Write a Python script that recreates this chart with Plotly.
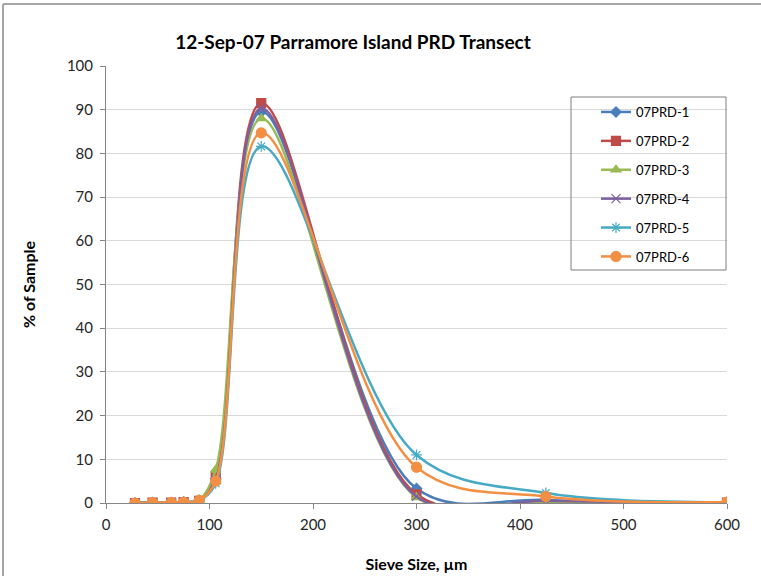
import plotly.graph_objects as go

# sieve openings (µm) and percent of sample retained
sieve_um = [28, 45, 63, 75, 90, 106, 150, 300, 425, 600]

prd_1 = [0.0, 0.1, 0.1, 0.2, 0.6, 5.5, 89.5, 3.3, 0.7, 0.1]
prd_2 = [0.0, 0.1, 0.1, 0.2, 0.5, 6.0, 91.5, 2.0, 0.2, 0.1]
prd_3 = [0.0, 0.1, 0.1, 0.2, 0.7, 7.6, 88.0, 1.3, 0.2, 0.1]
prd_4 = [0.0, 0.1, 0.1, 0.2, 0.5, 5.2, 90.3, 1.5, 0.5, 0.1]
prd_5 = [0.0, 0.1, 0.1, 0.3, 0.6, 4.5, 81.6, 11.0, 2.3, 0.2]
prd_6 = [0.0, 0.1, 0.1, 0.2, 0.6, 5.0, 84.7, 8.2, 1.5, 0.2]

series_names = ["07PRD-1", "07PRD-2", "07PRD-3", "07PRD-4", "07PRD-5", "07PRD-6"]
series_values = [prd_1, prd_2, prd_3, prd_4, prd_5, prd_6]

colors = ["#4A7EBB", "#BE4B48", "#98B954", "#7D60A0", "#46AAC5", "#F38F43"]
symbols = ["diamond", "square", "triangle-up", "x-thin-open", "asterisk-open", "circle"]
sizes = [8, 9, 9, 9, 9, 10]

FONT = "Lato, 'Open Sans', sans-serif"

fig = go.Figure()
for name, vals, col, sym, sz in zip(series_names, series_values, colors, symbols, sizes):
    fig.add_trace(go.Scatter(
        x=sieve_um,
        y=vals,
        mode="lines+markers",
        name=name,
        legendgroup=name,
        line=dict(color=col, width=2.5, shape="spline", smoothing=1.0),
        marker=dict(symbol=sym, size=sz, color=col, line=dict(color=col, width=1.2)),
    ))

# plot-area geometry in pixels (used to place the frame and legend box)
L, R, T, B = 106, 34, 66, 73
W, H = 761, 576
pw, ph = W - L - R, H - T - B


def px(x):
    return (x - L) / pw


def py(y):
    return (H - B - y) / ph


shapes = [
    # outer chart frame (only the top and left edges show in the crop)
    dict(type="line", xref="paper", yref="paper", x0=px(3), x1=px(W + 5), y0=py(4), y1=py(4),
         line=dict(color="#a6a6a6", width=2)),
    dict(type="line", xref="paper", yref="paper", x0=px(3), x1=px(3), y0=py(4), y1=py(H + 5),
         line=dict(color="#a6a6a6", width=2)),
    # legend box
    dict(type="rect", xref="paper", yref="paper", x0=px(571), x1=px(726), y0=py(97), y1=py(270),
         line=dict(color="#7f7f7f", width=1), fillcolor="rgba(0,0,0,0)"),
]

fig.update_layout(
    width=W,
    height=H,
    margin=dict(l=L, r=R, t=T, b=B, autoexpand=False),
    paper_bgcolor="white",
    plot_bgcolor="white",
    font=dict(family=FONT, size=15, color="#262626"),
    title=dict(
        text="<b>12-Sep-07 Parramore Island PRD Transect</b>",
        x=353 / W, xref="container", xanchor="center",
        y=1 - 42 / H, yref="container", yanchor="middle",
        font=dict(family=FONT, size=19, color="#000000"),
    ),
    xaxis=dict(
        range=[0, 600],
        dtick=100,
        showgrid=False,
        zeroline=False,
        showline=True,
        linecolor="#868686",
        linewidth=1,
        ticks="outside",
        ticklen=5,
        tickcolor="#868686",
        ticklabelstandoff=3,
        automargin=False,
        title=dict(text="<b>Sieve Size, µm</b>", standoff=26, font=dict(size=16, color="#000000")),
    ),
    yaxis=dict(
        range=[0, 100],
        dtick=10,
        showgrid=True,
        gridcolor="#d9d9d9",
        gridwidth=1,
        zeroline=False,
        showline=True,
        linecolor="#868686",
        linewidth=1,
        ticks="outside",
        ticklen=5,
        tickcolor="#868686",
        ticklabelstandoff=4,
        automargin=False,
        title=dict(text="<b>% of Sample</b>", standoff=27, font=dict(size=16, color="#000000")),
    ),
    legend=dict(
        x=px(596), y=py(97), xanchor="left", yanchor="top",
        bgcolor="rgba(0,0,0,0)",
        borderwidth=0,
        tracegroupgap=9,
        font=dict(family=FONT, size=13, color="#000000"),
    ),
    shapes=shapes,
    showlegend=True,
)

# the page's default 8px body margin would shift the whole chart
fig.write_html(
    "out.html",
    config={"displayModeBar": False},
    post_script="document.body.style.margin='0';document.body.style.overflow='hidden';",
)
